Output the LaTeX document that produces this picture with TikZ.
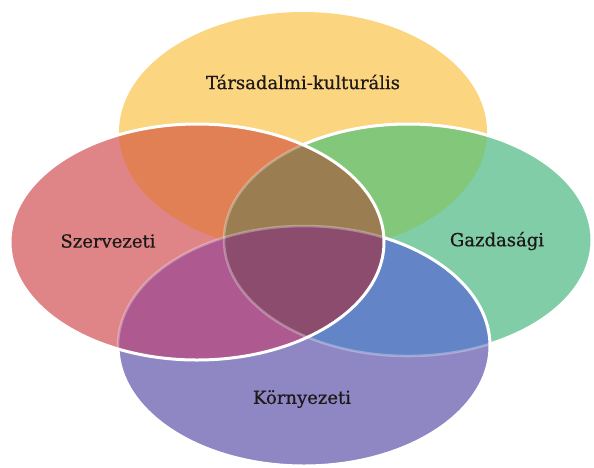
\documentclass[tikz,border=0pt]{standalone}
\usepackage{fontspec}
\setmainfont[FakeBold=0.6]{DejaVu Serif}
\definecolor{cY}{RGB}{251,213,127}
\definecolor{cG}{RGB}{128,205,168}
\definecolor{cR}{RGB}{224,133,135}
\definecolor{cP}{RGB}{142,135,196}
\definecolor{cYR}{RGB}{226,128,85}
\definecolor{cYG}{RGB}{130,199,122}
\definecolor{cGP}{RGB}{99,132,198}
\definecolor{cRP}{RGB}{174,90,144}
\definecolor{cYP}{RGB}{150,90,110}
\definecolor{cRG}{RGB}{150,110,100}
\definecolor{cRGY}{RGB}{154,125,80}
\definecolor{cRGP}{RGB}{139,76,110}
\definecolor{txt}{RGB}{30,24,24}
\newcommand\EY{(303,132) ellipse [x radius=184, y radius=120]}
\newcommand\EG{(408,240) ellipse [x radius=184, y radius=116]}
\newcommand\ER{(197,242) ellipse [x radius=187, y radius=118]}
\newcommand\EP{(304,346) ellipse [x radius=186, y radius=120]}
\newcommand\BigBox{(-60,-60) rectangle (660,530)}
\tikzset{
  outl/.style={draw=white, line width=3pt},
  faint/.style={draw=white, draw opacity=0.3, line width=2.5pt},
  lbl/.style={text=txt, font=\fontsize{18}{21}\selectfont, inner sep=0pt}
}
\begin{document}
\begin{tikzpicture}[x=1pt, y=-1pt]
\useasboundingbox (0,0) rectangle (594,467);
% single fills
\fill[cY] \EY;
\fill[cG] \EG;
\fill[cP] \EP;
\fill[cR] \ER;
% pair overlaps
\begin{scope}\clip \EY; \fill[cYR] \ER; \end{scope}
\begin{scope}\clip \EY; \fill[cYG] \EG; \end{scope}
\begin{scope}\clip \EG; \fill[cGP] \EP; \end{scope}
\begin{scope}\clip \ER; \fill[cRP] \EP; \end{scope}
\begin{scope}\clip \EY; \fill[cYP] \EP; \end{scope}
\begin{scope}\clip \ER; \fill[cRG] \EG; \end{scope}
% triple overlaps
\begin{scope}\clip \ER; \clip \EG; \fill[cRGY] \EY; \end{scope}
\begin{scope}\clip \ER; \clip \EG; \fill[cRGP] \EP; \end{scope}
% faint outlines (seen through later shapes)
\draw[faint] \EG;
\draw[faint] \EP;
% crisp outlines where not covered
\begin{scope}[even odd rule]
  \clip \BigBox \ER;
  \begin{scope}[even odd rule]
    \clip \BigBox \EP;
    \draw[outl] \EG;
  \end{scope}
  \draw[outl] \EP;
\end{scope}
\draw[outl] \ER;
% labels
\node[lbl] (tk) at (303,82) {Társadalmi-kulturális};
\node[lbl] (sz) at (108,241) {Szervezeti};
\node[lbl] (gz) at (497,241) {Gazdasági};
\node[lbl] (kz) at (302,399) {Környezeti};
\end{tikzpicture}
\end{document}
